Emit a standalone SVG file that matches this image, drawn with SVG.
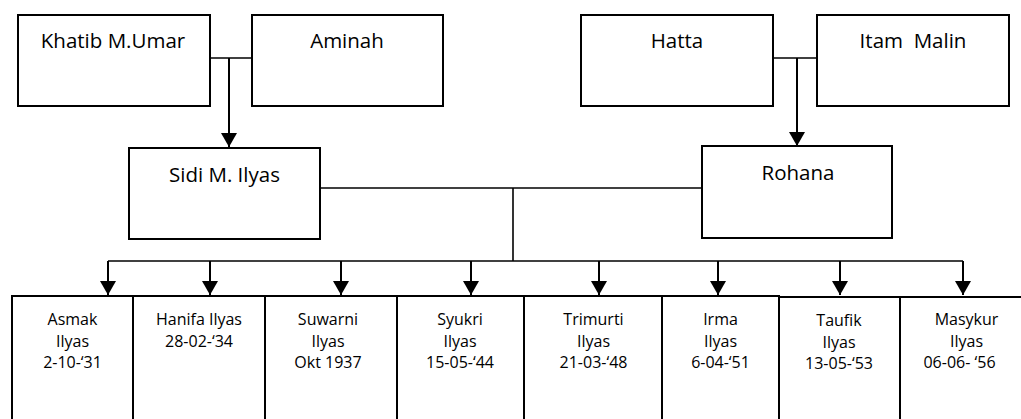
<svg xmlns="http://www.w3.org/2000/svg" width="1021" height="419" viewBox="0 0 1021 419">
<style>
  .box { fill: #ffffff; stroke: #000000; stroke-width: 2; }
  .t1 { font-family: "Open Sans", "Liberation Sans", sans-serif; font-size: 20.5px; fill: #000000; text-anchor: middle; }
  .t2 { font-family: "Open Sans", "Liberation Sans", sans-serif; font-size: 16px; fill: #000000; text-anchor: middle; }
  .ln { stroke: #000000; stroke-width: 1.6; fill: none; }
  .ar { stroke: #000000; stroke-width: 2; fill: none; marker-end: url(#ah); }
</style>
<defs>
  <marker id="ah" viewBox="0 0 14 16" refX="14" refY="8" markerWidth="14" markerHeight="16" markerUnits="userSpaceOnUse" orient="auto">
    <path d="M0,0 L14,8 L0,16 Z" fill="#000000"/>
  </marker>
</defs>
<rect width="1021" height="419" fill="#ffffff"/>

<g id="connectors">
  <line class="ln" x1="210" y1="58" x2="252" y2="58"/>
  <line class="ar" x1="229" y1="58" x2="229" y2="147"/>
  <line class="ln" x1="773" y1="58" x2="817" y2="58"/>
  <line class="ar" x1="797" y1="58" x2="797" y2="146"/>
  <line class="ln" x1="320" y1="188" x2="702" y2="188"/>
  <line class="ln" x1="513" y1="188" x2="513" y2="261"/>
  <line class="ln" x1="108" y1="261" x2="963" y2="261"/>
  <line class="ar" x1="108" y1="261" x2="108" y2="295"/>
  <line class="ar" x1="210" y1="261" x2="210" y2="295"/>
  <line class="ar" x1="341" y1="261" x2="341" y2="295"/>
  <line class="ar" x1="471" y1="261" x2="471" y2="295"/>
  <line class="ar" x1="599" y1="261" x2="599" y2="295"/>
  <line class="ar" x1="718" y1="261" x2="718" y2="295"/>
  <line class="ar" x1="840" y1="261" x2="840" y2="295"/>
  <line class="ar" x1="963" y1="261" x2="963" y2="295"/>
</g>

<g id="khatib">
  <rect class="box" x="18" y="15" width="192" height="91"/>
  <text class="t1" x="113" y="48">Khatib M.Umar</text>
</g>
<g id="aminah">
  <rect class="box" x="252" y="15" width="191" height="91"/>
  <text class="t1" x="347" y="48">Aminah</text>
</g>
<g id="hatta">
  <rect class="box" x="581" y="15" width="192" height="91"/>
  <text class="t1" x="677" y="48">Hatta</text>
</g>
<g id="itam-malin">
  <rect class="box" x="817" y="15" width="192" height="91"/>
  <text class="t1" x="913" y="48" xml:space="preserve">Itam  Malin</text>
</g>
<g id="sidi">
  <rect class="box" x="129" y="148" width="191" height="91"/>
  <text class="t1" x="224.5" y="182">Sidi M. Ilyas</text>
</g>
<g id="rohana">
  <rect class="box" x="702" y="146" width="190" height="92"/>
  <text class="t1" x="798" y="180">Rohana</text>
</g>

<g id="asmak">
  <rect class="box" x="12" y="296" width="121" height="140"/>
  <text class="t2" x="72.5" y="325">Asmak</text>
  <text class="t2" x="72.5" y="346.5">Ilyas</text>
  <text class="t2" x="72.5" y="368">2-10-‘31</text>
</g>
<g id="hanifa">
  <rect class="box" x="133" y="296" width="132" height="140"/>
  <text class="t2" x="199" y="325">Hanifa Ilyas</text>
  <text class="t2" x="199" y="346.5">28-02-‘34</text>
</g>
<g id="suwarni">
  <rect class="box" x="265" y="296" width="132" height="140"/>
  <text class="t2" x="328" y="325">Suwarni</text>
  <text class="t2" x="328" y="346.5">Ilyas</text>
  <text class="t2" x="328" y="368">Okt 1937</text>
</g>
<g id="syukri">
  <rect class="box" x="397" y="296" width="127" height="140"/>
  <text class="t2" x="460" y="325">Syukri</text>
  <text class="t2" x="460" y="346.5">Ilyas</text>
  <text class="t2" x="460" y="368">15-05-‘44</text>
</g>
<g id="trimurti">
  <rect class="box" x="524" y="296" width="138" height="140"/>
  <text class="t2" x="593.5" y="325">Trimurti</text>
  <text class="t2" x="593.5" y="346.5">Ilyas</text>
  <text class="t2" x="593.5" y="368">21-03-‘48</text>
</g>
<g id="irma">
  <rect class="box" x="662" y="296" width="117" height="140"/>
  <text class="t2" x="720.5" y="325">Irma</text>
  <text class="t2" x="720.5" y="346.5">Ilyas</text>
  <text class="t2" x="720.5" y="368">6-04-‘51</text>
</g>
<g id="taufik">
  <rect class="box" x="779" y="297" width="121" height="140"/>
  <text class="t2" x="839" y="326">Taufik</text>
  <text class="t2" x="839" y="347.5">Ilyas</text>
  <text class="t2" x="839" y="369">13-05-‘53</text>
</g>
<g id="masykur">
  <rect class="box" x="900" y="297" width="135" height="140"/>
  <text class="t2" x="966.5" y="325">Masykur</text>
  <text class="t2" x="966.5" y="346.5">Ilyas</text>
  <text class="t2" x="959.5" y="368" xml:space="preserve">06-06- ‘56</text>
</g>
</svg>
